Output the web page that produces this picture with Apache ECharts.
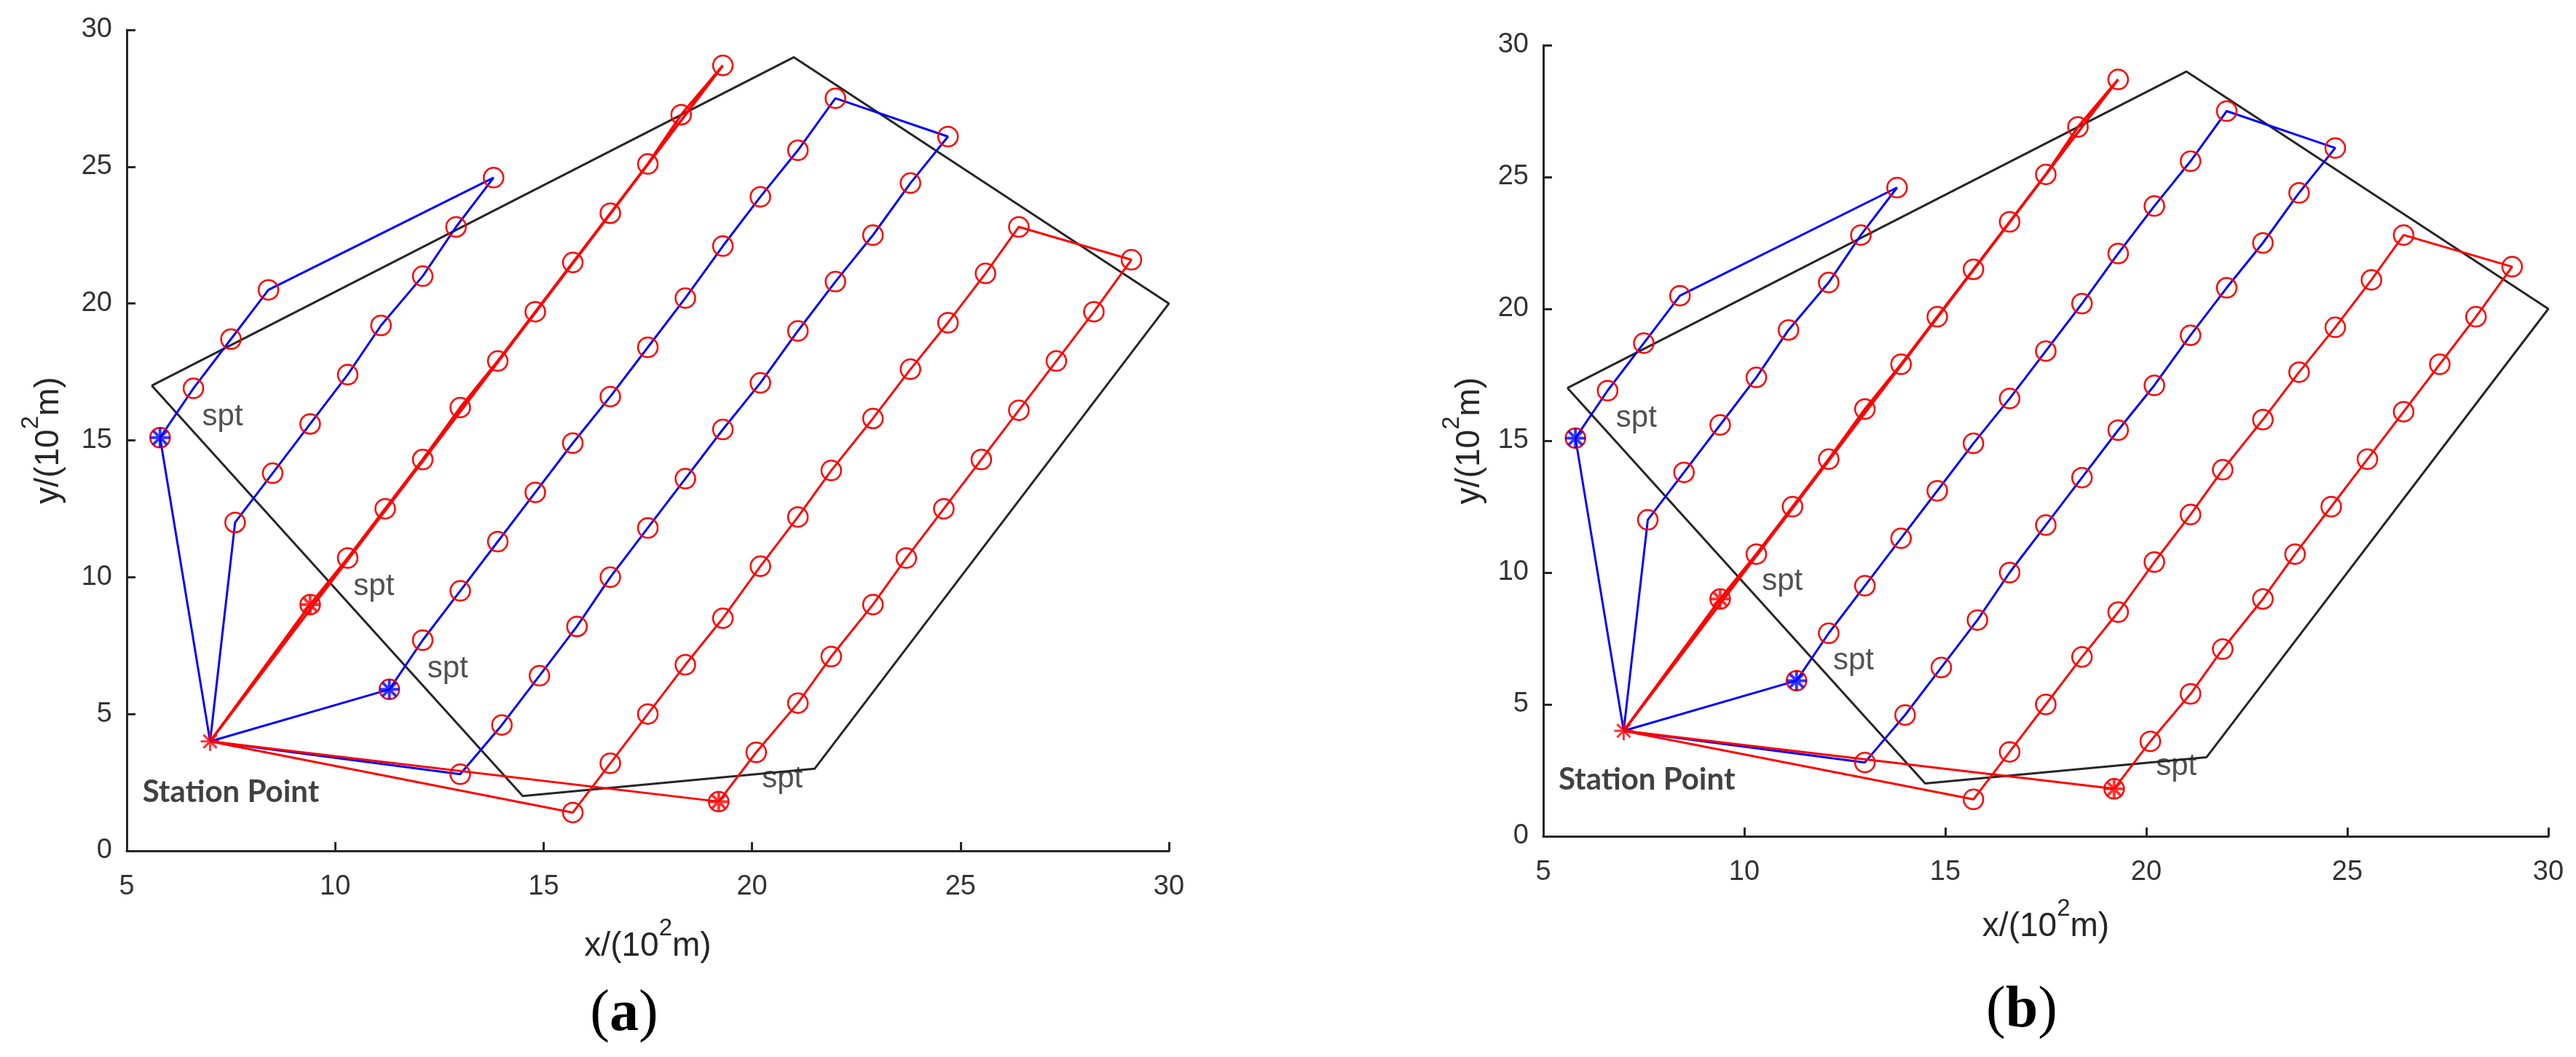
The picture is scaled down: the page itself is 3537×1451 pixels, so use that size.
<!DOCTYPE html>
<html>
<head>
<meta charset="utf-8">
<script src="https://cdn.jsdelivr.net/npm/echarts/dist/echarts.min.js"></script>
<style>
  html, body { margin: 0; padding: 0; background: #fff; }
  #chart { width: 3537px; height: 1451px; }
</style>
</head>
<body>
<div id="chart"></div>
<script>
// Données (unités : 10^2 m)
const xTicks = [5, 10, 15, 20, 25, 30];
const yTicks = [0, 5, 10, 15, 20, 25, 30];

const station = [7, 4];
const boundary = [[5.6, 17], [21, 29], [30, 20], [21.5, 3], [14.5, 2], [5.6, 17]];

// chaque tournée commence par son point "spt"
const routeBlue1 = [[5.8, 15.1], [6.6, 16.9], [7.5, 18.7], [8.4, 20.5], [13.8, 24.6], [12.9, 22.8],
  [12.1, 21.0], [11.1, 19.2], [10.3, 17.4], [9.4, 15.6], [8.5, 13.8], [7.6, 12.0]];
const routeRed1 = [[9.4, 9.0], [10.3, 10.7], [11.2, 12.5], [12.1, 14.3], [13.0, 16.2], [13.9, 17.9],
  [14.8, 19.7], [15.7, 21.5], [16.6, 23.3], [17.5, 25.1], [18.3, 26.9], [19.3, 28.7]];
const routeBlue2 = [[11.3, 5.9], [12.1, 7.7], [13.0, 9.5], [13.9, 11.3], [14.8, 13.1], [15.7, 14.9],
  [16.6, 16.6], [17.5, 18.4], [18.4, 20.2], [19.3, 22.1], [20.2, 23.9], [21.1, 25.6], [22.0, 27.5],
  [24.7, 26.1], [23.8, 24.4], [22.9, 22.5], [22.0, 20.8], [21.1, 19.0], [20.2, 17.1], [19.3, 15.4],
  [18.4, 13.6], [17.5, 11.8], [16.6, 10.0], [15.8, 8.2], [14.9, 6.4], [14.0, 4.6], [13.0, 2.8]];
const routeRed2 = [[19.2, 1.8], [20.1, 3.6], [21.1, 5.4], [21.9, 7.1], [22.9, 9.0], [23.7, 10.7],
  [24.6, 12.5], [25.5, 14.3], [26.4, 16.1], [27.3, 17.9], [28.2, 19.7], [29.1, 21.6], [26.4, 22.8],
  [25.6, 21.1], [24.7, 19.3], [23.8, 17.6], [22.9, 15.8], [21.9, 13.9], [21.1, 12.2], [20.2, 10.4],
  [19.3, 8.5], [18.4, 6.8], [17.5, 5.0], [16.6, 3.2], [15.7, 1.4]];

// ancrages des textes (coordonnées de données)
const sptLabelAt = [[6.8, 15.85], [10.43, 9.66], [12.2, 6.65], [20.23, 2.63]];
const stationLabelAt = [5.37, 2.15];

const BLUE = '#0000ff';
const RED = '#ff0000';
const AXIS = '#262626';
const STAR = 'path://M10 0L10 20M0 10L20 10M3 3L17 17M3 17L17 3';

const routes = [
  { pts: routeBlue1, color: BLUE, width: 3 },
  { pts: routeRed1, color: RED, width: 3.5 },
  { pts: routeBlue2, color: BLUE, width: 3 },
  { pts: routeRed2, color: RED, width: 3 },
];

// Réglages propres à chaque panneau (a) / (b)
const panels = [
  { grid: { left: 174, top: 41, width: 1431, height: 1127 }, xGap: 90, yGap: 65 },
  { grid: { left: 2119, top: 62, width: 1380, height: 1086 }, xGap: 83, yGap: 59 },
];

// exposant "2" : remonté par un padding bas
const nameStyle = {
  color: AXIS,
  fontFamily: 'Liberation Sans',
  rich: {
    n: { fontSize: 46, verticalAlign: 'middle', fontFamily: 'Liberation Sans', color: AXIS },
    sup: { fontSize: 33, verticalAlign: 'middle', padding: [0, 0, 50, 0], fontFamily: 'Liberation Sans', color: AXIS },
  },
};

function axisCommon(ticks) {
  return {
    type: 'value',
    min: ticks[0],
    max: ticks[ticks.length - 1],
    interval: ticks[1] - ticks[0],
    axisLine: { show: true, onZero: false, lineStyle: { color: AXIS, width: 3 } },
    axisTick: { show: true, inside: true, length: 12, lineStyle: { color: AXIS, width: 3 } },
    splitLine: { show: false },
    nameLocation: 'middle',
    nameTextStyle: nameStyle,
  };
}

function panelSeries(p) {
  const ax = { xAxisIndex: p, yAxisIndex: p, silent: true };
  const list = [];

  list.push({
    ...ax, type: 'line', data: boundary, showSymbol: false, z: 1,
    lineStyle: { color: AXIS, width: 3 },
  });

  routes.forEach((r) => {
    list.push({
      ...ax, type: 'line', data: [station, ...r.pts, station], showSymbol: false, z: 2,
      lineStyle: { color: r.color, width: r.width },
    });
  });

  // cercles rouges sur tous les points de passage
  list.push({
    ...ax, type: 'scatter', z: 3, symbol: 'circle', symbolSize: 27,
    data: routes.flatMap((r) => r.pts),
    itemStyle: { color: 'rgba(0,0,0,0)', borderColor: RED, borderWidth: 2.5, opacity: 1 },
  });

  // astérisques des points spt
  list.push({
    ...ax, type: 'scatter', z: 4, symbol: STAR, symbolSize: 27,
    data: routes.map((r) => ({
      value: r.pts[0],
      itemStyle: { color: 'rgba(0,0,0,0)', borderColor: r.color, borderWidth: 4 },
    })),
  });

  // station
  list.push({
    ...ax, type: 'scatter', z: 4, symbol: STAR, symbolSize: 26,
    data: [station],
    itemStyle: { color: 'rgba(0,0,0,0)', borderColor: RED, borderWidth: 3 },
  });

  // textes
  list.push({
    ...ax, type: 'scatter', z: 5, symbolSize: 1,
    itemStyle: { color: 'rgba(0,0,0,0)' },
    data: sptLabelAt.map((v) => ({ value: v, name: 'spt' })),
    label: {
      show: true, position: 'right', distance: 0, formatter: '{b}',
      fontFamily: 'Liberation Sans', fontSize: 42, color: AXIS,
    },
  });
  list.push({
    ...ax, type: 'scatter', z: 5, symbolSize: 1,
    itemStyle: { color: 'rgba(0,0,0,0)' },
    data: [{ value: stationLabelAt, name: 'Station Point' }],
    label: {
      show: true, position: 'right', distance: 0, formatter: '{b}',
      fontFamily: 'Lato', fontWeight: 'bold', fontSize: 42, color: '#111',
    },
  });
  return list;
}

function captionStyle() {
  return {
    font: '80px "Liberation Serif"',
    fill: '#000',
    align: 'center',
    verticalAlign: 'middle',
    rich: { b: { fontWeight: 'bold', fontSize: 80, fontFamily: 'Liberation Serif', fill: '#000' } },
  };
}

const chart = echarts.init(document.getElementById('chart'));

chart.setOption({
  animation: false,
  backgroundColor: '#fff',
  grid: panels.map((p) => ({ ...p.grid, containLabel: false })),
  xAxis: panels.map((p, i) => ({
    ...axisCommon(xTicks),
    gridIndex: i,
    position: 'bottom',
    name: '{n|x/(10}{sup|2}{n|m)}',
    nameGap: p.xGap,
    axisLabel: { fontFamily: 'Liberation Sans', fontSize: 38, color: '#333', margin: 31 },
  })),
  yAxis: panels.map((p, i) => ({
    ...axisCommon(yTicks),
    gridIndex: i,
    position: 'left',
    name: '{n|y/(10}{sup|2}{n|m)}',
    nameGap: p.yGap,
    nameRotate: 90,
    axisLabel: { fontFamily: 'Liberation Sans', fontSize: 38, color: '#333', margin: 20 },
  })),
  graphic: [
    { type: 'text', x: 857, y: 1393, style: { text: '({b|a})', ...captionStyle() } },
    { type: 'text', x: 2776, y: 1388, style: { text: '({b|b})', ...captionStyle() } },
  ],
  series: [...panelSeries(0), ...panelSeries(1)],
});

window.addEventListener('resize', () => chart.resize());
</script>
</body>
</html>
